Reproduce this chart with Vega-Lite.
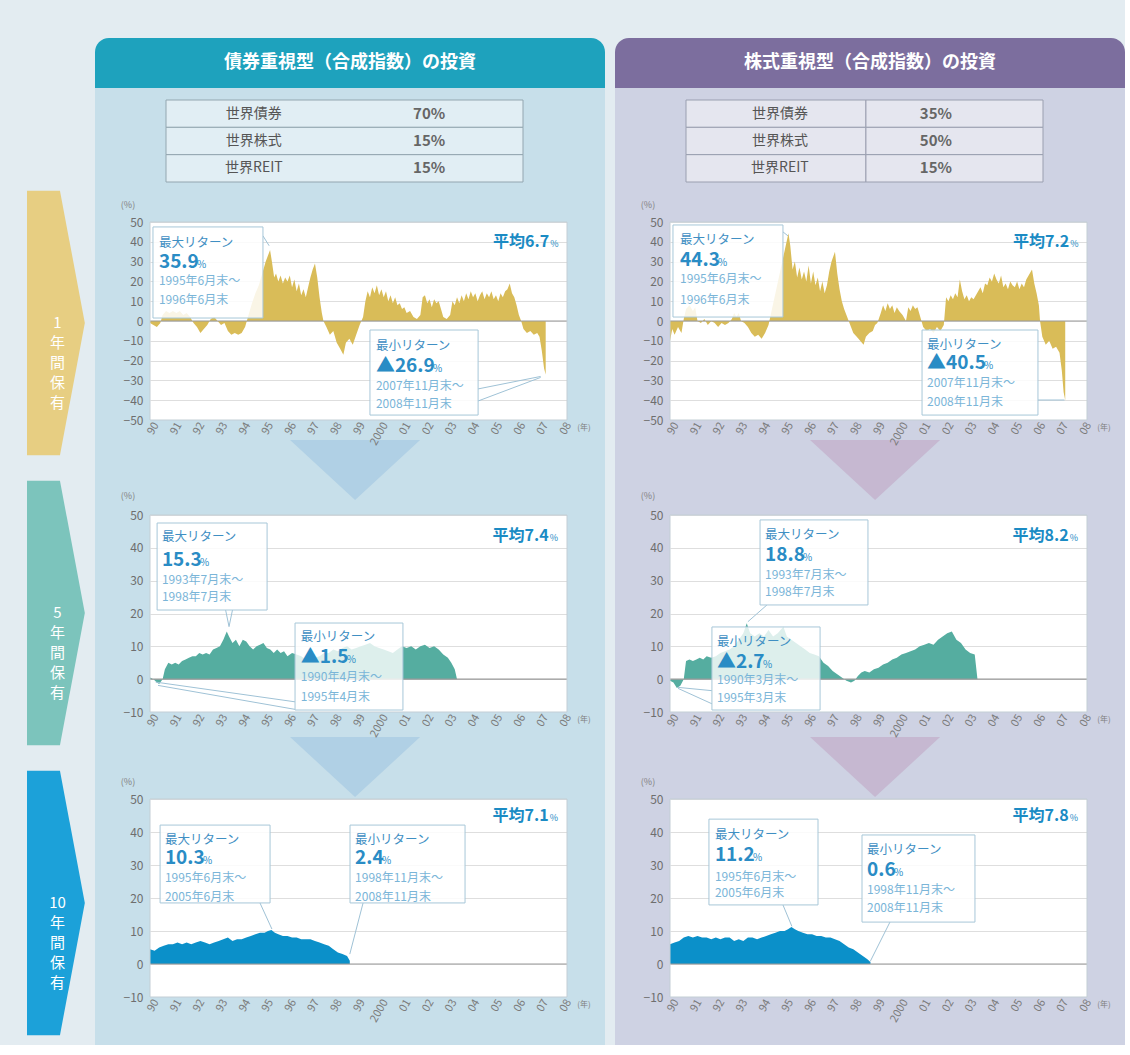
{
"$schema": "https://vega.github.io/schema/vega-lite/v6.json",
"background": "#e3ecf1",
"padding": {"left": 0, "top": 38, "right": 0, "bottom": 0},
"spacing": 10,
"config": {"font": "Noto Sans CJK JP", "view": {"stroke": null}, "text": {"font": "Noto Sans CJK JP"}, "axis": {"labelFont": "Noto Sans CJK JP"}},
"hconcat": [
{
 "width": 85, "height": 1007,
 "data": {"values": [
  {"row": "1年", "label": "1\n年\n間\n保\n有"},
  {"row": "5年", "label": "5\n年\n間\n保\n有"},
  {"row": "10年", "label": "10\n年\n間\n保\n有"}
 ]},
 "encoding": {"y": {"field": "row", "type": "nominal", "sort": null, "scale": {"type": "point", "domain": ["1年","5年","10年"], "range": [140, 1010], "padding": 0.5}, "axis": null}},
 "layer": [
  {"mark": {"type": "point", "shape": "M-0.117,-1L0.132,-1L0.32,0L0.132,1L-0.117,1Z", "filled": true, "opacity": 1, "size": 70000, "strokeWidth": 0},
   "encoding": {"color": {"field": "row", "type": "nominal", "scale": {"domain": ["1年","5年","10年"], "range": ["#e7ce82","#7cc4bc","#1ca1d9"]}, "legend": null}}},
  {"mark": {"type": "text", "color": "white", "fontSize": 15, "lineBreak": "\n", "lineHeight": 20, "dx": 15, "baseline": "middle"},
   "encoding": {"text": {"field": "label"}}}
 ]
},
{
 "spacing": 0, "bounds": "flush",
 "vconcat": [
  {"width": 510, "height": 50,
   "data": {"values": [{"title": "債券重視型（合成指数）の投資"}]},
   "layer": [
    {"mark": {"type": "rect", "color": "#1ea2bd", "cornerRadiusTopLeft": 14, "cornerRadiusTopRight": 14}},
    {"mark": {"type": "text", "color": "white", "fontSize": 18, "fontWeight": "bold", "baseline": "middle"}, "encoding": {"text": {"field": "title"}}}
   ]},
  {"width": 510, "height": 102, "view": {"fill": "#c7dfea"},
   "data": {"values": [{"asset": "世界債券", "w": "70%"}, {"asset": "世界株式", "w": "15%"}, {"asset": "世界REIT", "w": "15%"}]},
   "encoding": {"y": {"field": "asset", "type": "nominal", "sort": null, "scale": {"type": "band", "range": [12, 94], "paddingInner": 0, "paddingOuter": 0}, "axis": null}},
   "layer": [
    {"mark": {"type": "rect", "fill": "#e1eef4", "stroke": "#93a6b0", "strokeWidth": 1}, "encoding": {"x": {"datum": 0, "scale": {"domain": [0, 1], "range": [71, 428]}, "axis": null}, "x2": {"datum": 1}}},
    {"mark": {"type": "text", "fontSize": 14, "color": "#555555"}, "encoding": {"x": {"datum": 0.246, "axis": null}, "text": {"field": "asset"}}},
    {"mark": {"type": "text", "fontSize": 15, "fontWeight": "bold", "color": "#666666"}, "encoding": {"x": {"datum": 0.737, "axis": null}, "text": {"field": "w"}}}
   ]},
  {"width": 510, "height": 310, "view": {"fill": "white"},
   "resolve": {"axis": {"x": "independent", "y": "independent"}},
   "layer": [
    {"data": {"values": [
      {"t":1990.0,"v":-1},{"t":1990.15,"v":-2},{"t":1990.3,"v":-3},{"t":1990.45,"v":-1},{"t":1990.55,"v":3},{"t":1990.7,"v":5},{"t":1990.85,"v":4},{"t":1991.0,"v":5},{"t":1991.15,"v":4},{"t":1991.3,"v":5},{"t":1991.45,"v":3},{"t":1991.6,"v":4},{"t":1991.75,"v":2},{"t":1991.9,"v":-1},{"t":1992.05,"v":-3},{"t":1992.2,"v":-6},{"t":1992.35,"v":-4},{"t":1992.5,"v":-2},{"t":1992.65,"v":1},{"t":1992.8,"v":2},{"t":1992.95,"v":0},{"t":1993.1,"v":-2},{"t":1993.25,"v":-1},{"t":1993.4,"v":-5},{"t":1993.55,"v":-7},{"t":1993.7,"v":-6},{"t":1993.85,"v":-7},{"t":1994.0,"v":-6},{"t":1994.15,"v":-3},{"t":1994.3,"v":3},{"t":1994.45,"v":9},{"t":1994.6,"v":14},{"t":1994.75,"v":18},{"t":1994.9,"v":24},{"t":1995.05,"v":30},{"t":1995.24,"v":35.9},{"t":1995.32,"v":30},{"t":1995.42,"v":22},{"t":1995.5,"v":24},{"t":1995.6,"v":20},{"t":1995.7,"v":23},{"t":1995.8,"v":19},{"t":1995.9,"v":22},{"t":1996.0,"v":20},{"t":1996.1,"v":23},{"t":1996.2,"v":17},{"t":1996.3,"v":21},{"t":1996.4,"v":15},{"t":1996.5,"v":19},{"t":1996.6,"v":13},{"t":1996.7,"v":16},{"t":1996.8,"v":12},{"t":1996.9,"v":17},{"t":1997.0,"v":22},{"t":1997.1,"v":26},{"t":1997.2,"v":29},{"t":1997.3,"v":22},{"t":1997.4,"v":12},{"t":1997.5,"v":4},{"t":1997.57,"v":0},{"t":1997.7,"v":-3},{"t":1997.85,"v":-7},{"t":1998.0,"v":-5},{"t":1998.15,"v":-11},{"t":1998.3,"v":-14},{"t":1998.44,"v":-17},{"t":1998.55,"v":-11},{"t":1998.7,"v":-9},{"t":1998.85,"v":-12},{"t":1999.0,"v":-7},{"t":1999.15,"v":-2},{"t":1999.3,"v":2},{"t":1999.4,"v":10},{"t":1999.5,"v":15},{"t":1999.6,"v":12},{"t":1999.7,"v":17},{"t":1999.8,"v":14},{"t":1999.9,"v":18},{"t":2000.0,"v":13},{"t":2000.1,"v":16},{"t":2000.2,"v":12},{"t":2000.3,"v":15},{"t":2000.4,"v":10},{"t":2000.5,"v":13},{"t":2000.6,"v":9},{"t":2000.7,"v":12},{"t":2000.8,"v":8},{"t":2000.9,"v":9},{"t":2001.0,"v":6},{"t":2001.1,"v":7},{"t":2001.2,"v":4},{"t":2001.35,"v":5},{"t":2001.5,"v":2},{"t":2001.65,"v":1},{"t":2001.8,"v":3},{"t":2001.9,"v":12},{"t":2002.0,"v":13},{"t":2002.1,"v":9},{"t":2002.2,"v":11},{"t":2002.3,"v":7},{"t":2002.4,"v":11},{"t":2002.5,"v":9},{"t":2002.6,"v":10},{"t":2002.7,"v":6},{"t":2002.8,"v":2},{"t":2002.95,"v":1},{"t":2003.1,"v":3},{"t":2003.2,"v":10},{"t":2003.3,"v":8},{"t":2003.4,"v":12},{"t":2003.5,"v":9},{"t":2003.6,"v":13},{"t":2003.7,"v":10},{"t":2003.8,"v":14},{"t":2003.9,"v":11},{"t":2004.0,"v":15},{"t":2004.1,"v":12},{"t":2004.2,"v":14},{"t":2004.3,"v":10},{"t":2004.4,"v":13},{"t":2004.5,"v":15},{"t":2004.6,"v":11},{"t":2004.7,"v":14},{"t":2004.8,"v":12},{"t":2004.9,"v":15},{"t":2005.0,"v":11},{"t":2005.1,"v":13},{"t":2005.2,"v":10},{"t":2005.3,"v":14},{"t":2005.4,"v":12},{"t":2005.5,"v":15},{"t":2005.6,"v":16},{"t":2005.7,"v":19},{"t":2005.8,"v":14},{"t":2005.9,"v":12},{"t":2006.0,"v":8},{"t":2006.1,"v":3},{"t":2006.2,"v":0},{"t":2006.3,"v":-4},{"t":2006.45,"v":-6},{"t":2006.6,"v":-5},{"t":2006.75,"v":-7},{"t":2006.9,"v":-6},{"t":2007.0,"v":-8},{"t":2007.1,"v":-15},{"t":2007.2,"v":-24},{"t":2007.27,"v":-27}
     ]},
     "mark": {"type": "area", "color": "#d9bc58"},
     "encoding": {
      "x": {"field": "t", "type": "quantitative", "scale": {"domain": [1990, 2008.2], "range": [55, 472], "nice": false, "zero": false},
            "axis": {"orient": "bottom", "offset": -80, "values": [1990,1991,1992,1993,1994,1995,1996,1997,1998,1999,2000,2001,2002,2003,2004,2005,2006,2007,2008], "labelExpr": "datum.value === 2000 ? '2000' : format(datum.value % 100, '02d')", "labelAngle": -60, "labelAlign": "right", "labelBaseline": "middle", "labelOffset": 6, "labelPadding": 3, "labelFontSize": 11, "labelColor": "#7b7b7b", "labelOverlap": false, "labelFlush": false, "labelBound": false, "domain": false, "ticks": false, "grid": false, "title": null, "zindex": 1}},
      "y": {"field": "v", "type": "quantitative", "scale": {"domain": [-50, 50], "range": [230, 32], "nice": false, "zero": false},
            "axis": {"orient": "left", "values": [-50,-40,-30,-20,-10,0,10,20,30,40,50], "grid": true, "gridColor": "#dedede", "labels": false, "ticks": false, "domain": false, "title": null, "zindex": 0}}
     }},
    {"data": {"values": [{}]}, "mark": {"type": "rect", "color": "#c7dfea", "clip": true}, "encoding": {"x": {"datum": 1975, "axis": null}, "x2": {"datum": 1990}}},
    {"data": {"values": [{}]}, "mark": {"type": "rect", "color": "#c7dfea", "clip": true}, "encoding": {"x": {"datum": 2008.2, "axis": null}, "x2": {"datum": 2025}}},
    {"data": {"values": [{}]}, "mark": {"type": "rect", "color": "#c7dfea", "clip": true}, "encoding": {"y": {"datum": 50, "axis": null}, "y2": {"datum": 400}}},
    {"data": {"values": [{}]}, "mark": {"type": "rect", "color": "#c7dfea", "clip": true}, "encoding": {"y": {"datum": -50, "axis": null}, "y2": {"datum": -400}}},
    {"data": {"values": [{}]}, "mark": {"type": "point", "shape": "M-1,-0.4615L1,-0.4615L0,0.4615Z", "filled": true, "size": 16900, "color": "#b0d0e5", "opacity": 1, "strokeWidth": 0, "clip": true}, "encoding": {"x": {"datum": 1998.95, "axis": null}, "y": {"datum": -75.25, "axis": null}}},
    {"data": {"values": [{}]}, "mark": {"type": "rule", "color": "#9a9a9a", "strokeWidth": 1.2}, "encoding": {"x": {"datum": 1990, "axis": null}, "x2": {"datum": 2008.2}, "y": {"datum": 0, "axis": null}}},
    {"data": {"values": [{}]}, "mark": {"type": "rect", "filled": false, "color": "#c3ced5", "strokeWidth": 1},
     "encoding": {"x": {"datum": 1990, "axis": null}, "x2": {"datum": 2008.2},
      "y": {"datum": -50, "axis": {"orient": "left", "offset": -55, "values": [-50,-40,-30,-20,-10,0,10,20,30,40,50], "grid": false, "ticks": false, "domain": false, "labelPadding": 7, "labelFontSize": 12, "labelColor": "#6e6e6e", "labelOverlap": false, "labelFlush": false, "labelBound": false, "title": null, "zindex": 1}},
      "y2": {"datum": 50}}},
    {"data": {"values": [{}]}, "mark": {"type": "text", "fontSize": 9, "color": "#808080", "dx": -22, "dy": -17}, "encoding": {"x": {"datum": 1990, "axis": null}, "y": {"datum": 50, "axis": null}, "text": {"value": "(%)"}}},
    {"data": {"values": [{}]}, "mark": {"type": "text", "fontSize": 8, "color": "#808080", "dx": 17, "dy": 8}, "encoding": {"x": {"datum": 2008.2, "axis": null}, "y": {"datum": -50, "axis": null}, "text": {"value": "(年)"}}},
    {"data": {"values": [{"kind": "最大リターン", "ret": "35.9", "from": "1995年6月末〜", "to": "1996年6月末"}]},
     "layer": [
      {"mark": {"type": "rule", "color": "#9fc2d6", "strokeWidth": 1}, "encoding": {"x": {"datum": 1994.93, "axis": null}, "y": {"datum": 43, "axis": null}, "x2": {"datum": 1995.2}, "y2": {"datum": 38}}},
      {"mark": {"type": "rect", "fill": "white", "fillOpacity": 0.85, "stroke": "#a7c7d8", "strokeWidth": 1}, "encoding": {"x": {"datum": 1990.13, "axis": null}, "x2": {"datum": 1994.93}, "y": {"datum": 47.5, "axis": null}, "y2": {"datum": 1.5}}},
      {"mark": {"type": "text", "align": "left", "baseline": "middle", "fontSize": 12.5, "color": "#3f8fc3"}, "encoding": {"x": {"datum": 1990.39, "axis": null}, "y": {"datum": 39.4, "axis": null}, "text": {"field": "kind"}}},
      {"mark": {"type": "text", "align": "left", "baseline": "middle", "fontSize": 19, "fontWeight": "bold", "color": "#2a8cc5"}, "encoding": {"x": {"datum": 1990.39, "axis": null}, "y": {"datum": 29.8, "axis": null}, "text": {"field": "ret"}}},
      {"mark": {"type": "text", "align": "left", "baseline": "middle", "fontSize": 10, "color": "#2a8cc5", "dx": 38, "dy": 3}, "encoding": {"x": {"datum": 1990.39, "axis": null}, "y": {"datum": 29.8, "axis": null}, "text": {"value": "%"}}},
      {"mark": {"type": "text", "align": "left", "baseline": "middle", "fontSize": 12, "color": "#7ab5d8"}, "encoding": {"x": {"datum": 1990.39, "axis": null}, "y": {"datum": 20.2, "axis": null}, "text": {"field": "from"}}},
      {"mark": {"type": "text", "align": "left", "baseline": "middle", "fontSize": 12, "color": "#7ab5d8"}, "encoding": {"x": {"datum": 1990.39, "axis": null}, "y": {"datum": 10.6, "axis": null}, "text": {"field": "to"}}}
     ]},
    {"data": {"values": [{"kind": "最小リターン", "ret": "▲26.9", "from": "2007年11月末〜", "to": "2008年11月末"}]},
     "layer": [
      {"mark": {"type": "rule", "color": "#9fc2d6", "strokeWidth": 1}, "encoding": {"x": {"datum": 2004.32, "axis": null}, "y": {"datum": -34.3, "axis": null}, "x2": {"datum": 2007.05}, "y2": {"datum": -28}}},
      {"mark": {"type": "rule", "color": "#9fc2d6", "strokeWidth": 1}, "encoding": {"x": {"datum": 2004.32, "axis": null}, "y": {"datum": -40.4, "axis": null}, "x2": {"datum": 2007.05}, "y2": {"datum": -28.5}}},
      {"mark": {"type": "rect", "fill": "white", "fillOpacity": 0.85, "stroke": "#a7c7d8", "strokeWidth": 1}, "encoding": {"x": {"datum": 1999.6, "axis": null}, "x2": {"datum": 2004.32}, "y": {"datum": -4.55, "axis": null}, "y2": {"datum": -47.5}}},
      {"mark": {"type": "text", "align": "left", "baseline": "middle", "fontSize": 12.5, "color": "#3f8fc3"}, "encoding": {"x": {"datum": 1999.86, "axis": null}, "y": {"datum": -12.6, "axis": null}, "text": {"field": "kind"}}},
      {"mark": {"type": "text", "align": "left", "baseline": "middle", "fontSize": 19, "fontWeight": "bold", "color": "#2a8cc5"}, "encoding": {"x": {"datum": 1999.86, "axis": null}, "y": {"datum": -22.7, "axis": null}, "text": {"field": "ret"}}},
      {"mark": {"type": "text", "align": "left", "baseline": "middle", "fontSize": 10, "color": "#2a8cc5", "dx": 57, "dy": 3}, "encoding": {"x": {"datum": 1999.86, "axis": null}, "y": {"datum": -22.7, "axis": null}, "text": {"value": "%"}}},
      {"mark": {"type": "text", "align": "left", "baseline": "middle", "fontSize": 12, "color": "#7ab5d8"}, "encoding": {"x": {"datum": 1999.86, "axis": null}, "y": {"datum": -32.8, "axis": null}, "text": {"field": "from"}}},
      {"mark": {"type": "text", "align": "left", "baseline": "middle", "fontSize": 12, "color": "#7ab5d8"}, "encoding": {"x": {"datum": 1999.86, "axis": null}, "y": {"datum": -41.9, "axis": null}, "text": {"field": "to"}}}
     ]},
    {"data": {"values": [{"avg": "平均6.7"}]},
     "layer": [
      {"mark": {"type": "text", "align": "right", "baseline": "alphabetic", "fontSize": 16, "fontWeight": "bold", "color": "#1b8bc4"}, "encoding": {"x": {"datum": 2007.42, "axis": null}, "y": {"datum": 37.4, "axis": null}, "text": {"field": "avg"}}},
      {"mark": {"type": "text", "align": "left", "baseline": "alphabetic", "fontSize": 9, "color": "#1b8bc4", "dx": 1}, "encoding": {"x": {"datum": 2007.42, "axis": null}, "y": {"datum": 37.4, "axis": null}, "text": {"value": "%"}}}
     ]}
   ]},
  {"width": 510, "height": 298, "view": {"fill": "white"},
   "resolve": {"axis": {"x": "independent", "y": "independent"}},
   "layer": [
    {"data": {"values": [
      {"t":1990.0,"v":0.5},{"t":1990.15,"v":0},{"t":1990.3,"v":-1},{"t":1990.4,"v":-1.5},{"t":1990.55,"v":0},{"t":1990.65,"v":3},{"t":1990.8,"v":5},{"t":1990.95,"v":4.5},{"t":1991.1,"v":5},{"t":1991.25,"v":4.5},{"t":1991.4,"v":5.5},{"t":1991.55,"v":6},{"t":1991.7,"v":6.5},{"t":1991.85,"v":7},{"t":1992.0,"v":7},{"t":1992.15,"v":8},{"t":1992.3,"v":7.5},{"t":1992.45,"v":8},{"t":1992.6,"v":7.5},{"t":1992.75,"v":9},{"t":1992.9,"v":9.5},{"t":1993.05,"v":10},{"t":1993.2,"v":12},{"t":1993.35,"v":14.5},{"t":1993.45,"v":13},{"t":1993.6,"v":11},{"t":1993.75,"v":12},{"t":1993.9,"v":10},{"t":1994.05,"v":12},{"t":1994.2,"v":11.5},{"t":1994.35,"v":10},{"t":1994.5,"v":9},{"t":1994.65,"v":10},{"t":1994.8,"v":10.5},{"t":1994.95,"v":11},{"t":1995.1,"v":9.5},{"t":1995.25,"v":9},{"t":1995.4,"v":8},{"t":1995.55,"v":9},{"t":1995.7,"v":8},{"t":1995.85,"v":8.5},{"t":1996.0,"v":7},{"t":1996.2,"v":8},{"t":1996.4,"v":7.5},{"t":1996.6,"v":7},{"t":1996.8,"v":6},{"t":1997.0,"v":7},{"t":1997.2,"v":6.5},{"t":1997.4,"v":7},{"t":1997.6,"v":8},{"t":1997.8,"v":8},{"t":1998.0,"v":9},{"t":1998.2,"v":8.5},{"t":1998.4,"v":9.5},{"t":1998.6,"v":10},{"t":1998.8,"v":9},{"t":1999.0,"v":9.5},{"t":1999.2,"v":10},{"t":1999.4,"v":10.5},{"t":1999.6,"v":11},{"t":1999.8,"v":10},{"t":2000.0,"v":9.5},{"t":2000.2,"v":9},{"t":2000.4,"v":8.5},{"t":2000.6,"v":8},{"t":2000.8,"v":9},{"t":2001.0,"v":10},{"t":2001.2,"v":9.5},{"t":2001.4,"v":10},{"t":2001.6,"v":9},{"t":2001.8,"v":10},{"t":2002.0,"v":10.5},{"t":2002.2,"v":9.5},{"t":2002.4,"v":10},{"t":2002.6,"v":9},{"t":2002.8,"v":7.5},{"t":2003.0,"v":6.5},{"t":2003.15,"v":5},{"t":2003.3,"v":3},{"t":2003.4,"v":0}
     ]},
     "mark": {"type": "area", "color": "#55ada0"},
     "encoding": {
      "x": {"field": "t", "type": "quantitative", "scale": {"domain": [1990, 2008.2], "range": [55, 472], "nice": false, "zero": false},
            "axis": {"orient": "bottom", "offset": -86, "values": [1990,1991,1992,1993,1994,1995,1996,1997,1998,1999,2000,2001,2002,2003,2004,2005,2006,2007,2008], "labelExpr": "datum.value === 2000 ? '2000' : format(datum.value % 100, '02d')", "labelAngle": -60, "labelAlign": "right", "labelBaseline": "middle", "labelOffset": 6, "labelPadding": 3, "labelFontSize": 11, "labelColor": "#7b7b7b", "labelOverlap": false, "labelFlush": false, "labelBound": false, "domain": false, "ticks": false, "grid": false, "title": null, "zindex": 1}},
      "y": {"field": "v", "type": "quantitative", "scale": {"domain": [-10, 50], "range": [212, 15], "nice": false, "zero": false},
            "axis": {"orient": "left", "values": [-10,0,10,20,30,40,50], "grid": true, "gridColor": "#dedede", "labels": false, "ticks": false, "domain": false, "title": null, "zindex": 0}}
     }},
    {"data": {"values": [{}]}, "mark": {"type": "rect", "color": "#c7dfea", "clip": true}, "encoding": {"x": {"datum": 1975, "axis": null}, "x2": {"datum": 1990}}},
    {"data": {"values": [{}]}, "mark": {"type": "rect", "color": "#c7dfea", "clip": true}, "encoding": {"x": {"datum": 2008.2, "axis": null}, "x2": {"datum": 2025}}},
    {"data": {"values": [{}]}, "mark": {"type": "rect", "color": "#c7dfea", "clip": true}, "encoding": {"y": {"datum": 50, "axis": null}, "y2": {"datum": 400}}},
    {"data": {"values": [{}]}, "mark": {"type": "rect", "color": "#c7dfea", "clip": true}, "encoding": {"y": {"datum": -10, "axis": null}, "y2": {"datum": -400}}},
    {"data": {"values": [{}]}, "mark": {"type": "point", "shape": "M-1,-0.4615L1,-0.4615L0,0.4615Z", "filled": true, "size": 16900, "color": "#b0d0e5", "opacity": 1, "strokeWidth": 0, "clip": true}, "encoding": {"x": {"datum": 1998.95, "axis": null}, "y": {"datum": -26.76, "axis": null}}},
    {"data": {"values": [{}]}, "mark": {"type": "rule", "color": "#9a9a9a", "strokeWidth": 1.2}, "encoding": {"x": {"datum": 1990, "axis": null}, "x2": {"datum": 2008.2}, "y": {"datum": 0, "axis": null}}},
    {"data": {"values": [{}]}, "mark": {"type": "rect", "filled": false, "color": "#c3ced5", "strokeWidth": 1},
     "encoding": {"x": {"datum": 1990, "axis": null}, "x2": {"datum": 2008.2},
      "y": {"datum": -10, "axis": {"orient": "left", "offset": -55, "values": [-10,0,10,20,30,40,50], "grid": false, "ticks": false, "domain": false, "labelPadding": 7, "labelFontSize": 12, "labelColor": "#6e6e6e", "labelOverlap": false, "labelFlush": false, "labelBound": false, "title": null, "zindex": 1}},
      "y2": {"datum": 50}}},
    {"data": {"values": [{}]}, "mark": {"type": "text", "fontSize": 9, "color": "#808080", "dx": -22, "dy": -19}, "encoding": {"x": {"datum": 1990, "axis": null}, "y": {"datum": 50, "axis": null}, "text": {"value": "(%)"}}},
    {"data": {"values": [{}]}, "mark": {"type": "text", "fontSize": 8, "color": "#808080", "dx": 17, "dy": 8}, "encoding": {"x": {"datum": 2008.2, "axis": null}, "y": {"datum": -10, "axis": null}, "text": {"value": "(年)"}}},
    {"data": {"values": [{"kind": "最大リターン", "ret": "15.3", "from": "1993年7月末〜", "to": "1998年7月末"}]},
     "layer": [
      {"mark": {"type": "rule", "color": "#9fc2d6", "strokeWidth": 1}, "encoding": {"x": {"datum": 1993.3, "axis": null}, "y": {"datum": 21.06, "axis": null}, "x2": {"datum": 1993.45}, "y2": {"datum": 16}}},
      {"mark": {"type": "rule", "color": "#9fc2d6", "strokeWidth": 1}, "encoding": {"x": {"datum": 1993.6, "axis": null}, "y": {"datum": 21.06, "axis": null}, "x2": {"datum": 1993.45}, "y2": {"datum": 16}}},
      {"mark": {"type": "rect", "fill": "white", "fillOpacity": 0.85, "stroke": "#a7c7d8", "strokeWidth": 1}, "encoding": {"x": {"datum": 1990.31, "axis": null}, "x2": {"datum": 1995.11}, "y": {"datum": 47.56, "axis": null}, "y2": {"datum": 21.06}}},
      {"mark": {"type": "text", "align": "left", "baseline": "middle", "fontSize": 12.5, "color": "#3f8fc3"}, "encoding": {"x": {"datum": 1990.52, "axis": null}, "y": {"datum": 43.4, "axis": null}, "text": {"field": "kind"}}},
      {"mark": {"type": "text", "align": "left", "baseline": "middle", "fontSize": 19, "fontWeight": "bold", "color": "#2a8cc5"}, "encoding": {"x": {"datum": 1990.52, "axis": null}, "y": {"datum": 36.3, "axis": null}, "text": {"field": "ret"}}},
      {"mark": {"type": "text", "align": "left", "baseline": "middle", "fontSize": 10, "color": "#2a8cc5", "dx": 38, "dy": 3}, "encoding": {"x": {"datum": 1990.52, "axis": null}, "y": {"datum": 36.3, "axis": null}, "text": {"value": "%"}}},
      {"mark": {"type": "text", "align": "left", "baseline": "middle", "fontSize": 12, "color": "#7ab5d8"}, "encoding": {"x": {"datum": 1990.52, "axis": null}, "y": {"datum": 30.2, "axis": null}, "text": {"field": "from"}}},
      {"mark": {"type": "text", "align": "left", "baseline": "middle", "fontSize": 12, "color": "#7ab5d8"}, "encoding": {"x": {"datum": 1990.52, "axis": null}, "y": {"datum": 25.1, "axis": null}, "text": {"field": "to"}}}
     ]},
    {"data": {"values": [{"kind": "最小リターン", "ret": "▲1.5", "from": "1990年4月末〜", "to": "1995年4月末"}]},
     "layer": [
      {"mark": {"type": "rule", "color": "#9fc2d6", "strokeWidth": 1}, "encoding": {"x": {"datum": 1990.25, "axis": null}, "y": {"datum": -0.9, "axis": null}, "x2": {"datum": 1996.33}, "y2": {"datum": -6.9}}},
      {"mark": {"type": "rule", "color": "#9fc2d6", "strokeWidth": 1}, "encoding": {"x": {"datum": 1990.35, "axis": null}, "y": {"datum": -1.9, "axis": null}, "x2": {"datum": 1996.33}, "y2": {"datum": -9.2}}},
      {"mark": {"type": "rect", "fill": "white", "fillOpacity": 0.8, "stroke": "#a7c7d8", "strokeWidth": 1}, "encoding": {"x": {"datum": 1996.33, "axis": null}, "x2": {"datum": 2001.04}, "y": {"datum": 17.1, "axis": null}, "y2": {"datum": -9.4}}},
      {"mark": {"type": "text", "align": "left", "baseline": "middle", "fontSize": 12.5, "color": "#3f8fc3"}, "encoding": {"x": {"datum": 1996.58, "axis": null}, "y": {"datum": 12.9, "axis": null}, "text": {"field": "kind"}}},
      {"mark": {"type": "text", "align": "left", "baseline": "middle", "fontSize": 19, "fontWeight": "bold", "color": "#2a8cc5"}, "encoding": {"x": {"datum": 1996.58, "axis": null}, "y": {"datum": 6.8, "axis": null}, "text": {"field": "ret"}}},
      {"mark": {"type": "text", "align": "left", "baseline": "middle", "fontSize": 10, "color": "#2a8cc5", "dx": 46, "dy": 3}, "encoding": {"x": {"datum": 1996.58, "axis": null}, "y": {"datum": 6.8, "axis": null}, "text": {"value": "%"}}},
      {"mark": {"type": "text", "align": "left", "baseline": "middle", "fontSize": 12, "color": "#7ab5d8"}, "encoding": {"x": {"datum": 1996.58, "axis": null}, "y": {"datum": 0.75, "axis": null}, "text": {"field": "from"}}},
      {"mark": {"type": "text", "align": "left", "baseline": "middle", "fontSize": 12, "color": "#7ab5d8"}, "encoding": {"x": {"datum": 1996.58, "axis": null}, "y": {"datum": -5.3, "axis": null}, "text": {"field": "to"}}}
     ]},
    {"data": {"values": [{"avg": "平均7.4"}]},
     "layer": [
      {"mark": {"type": "text", "align": "right", "baseline": "alphabetic", "fontSize": 16, "fontWeight": "bold", "color": "#1b8bc4"}, "encoding": {"x": {"datum": 2007.4, "axis": null}, "y": {"datum": 42.1, "axis": null}, "text": {"field": "avg"}}},
      {"mark": {"type": "text", "align": "left", "baseline": "alphabetic", "fontSize": 9, "color": "#1b8bc4", "dx": 1}, "encoding": {"x": {"datum": 2007.4, "axis": null}, "y": {"datum": 42.1, "axis": null}, "text": {"value": "%"}}}
     ]}
   ]},
  {"width": 510, "height": 247, "view": {"fill": "white"},
   "resolve": {"axis": {"x": "independent", "y": "independent"}},
   "layer": [
    {"data": {"values": [
      {"t":1990.0,"v":4.5},{"t":1990.2,"v":4},{"t":1990.4,"v":5},{"t":1990.6,"v":5.5},{"t":1990.8,"v":6},{"t":1991.0,"v":6},{"t":1991.2,"v":6.5},{"t":1991.4,"v":6},{"t":1991.6,"v":6.5},{"t":1991.8,"v":6},{"t":1992.0,"v":6.5},{"t":1992.2,"v":7},{"t":1992.4,"v":6.5},{"t":1992.6,"v":6},{"t":1992.8,"v":6.5},{"t":1993.0,"v":7},{"t":1993.2,"v":7.5},{"t":1993.4,"v":8},{"t":1993.6,"v":7},{"t":1993.8,"v":7.5},{"t":1994.0,"v":7.5},{"t":1994.2,"v":8},{"t":1994.4,"v":8.5},{"t":1994.6,"v":9},{"t":1994.8,"v":9.5},{"t":1995.0,"v":9.5},{"t":1995.15,"v":10},{"t":1995.3,"v":10.3},{"t":1995.45,"v":9.5},{"t":1995.6,"v":9},{"t":1995.8,"v":8.5},{"t":1996.0,"v":8.5},{"t":1996.2,"v":8},{"t":1996.4,"v":8},{"t":1996.6,"v":7.5},{"t":1996.8,"v":7.5},{"t":1997.0,"v":7.5},{"t":1997.2,"v":7},{"t":1997.4,"v":6.5},{"t":1997.6,"v":6},{"t":1997.8,"v":5.5},{"t":1998.0,"v":4.5},{"t":1998.2,"v":3.5},{"t":1998.4,"v":3},{"t":1998.6,"v":2.4},{"t":1998.72,"v":1}
     ]},
     "mark": {"type": "area", "color": "#0b90c9"},
     "encoding": {
      "x": {"field": "t", "type": "quantitative", "scale": {"domain": [1990, 2008.2], "range": [55, 472], "nice": false, "zero": false},
            "axis": {"orient": "bottom", "offset": -48, "values": [1990,1991,1992,1993,1994,1995,1996,1997,1998,1999,2000,2001,2002,2003,2004,2005,2006,2007,2008], "labelExpr": "datum.value === 2000 ? '2000' : format(datum.value % 100, '02d')", "labelAngle": -60, "labelAlign": "right", "labelBaseline": "middle", "labelOffset": 6, "labelPadding": 3, "labelFontSize": 11, "labelColor": "#7b7b7b", "labelOverlap": false, "labelFlush": false, "labelBound": false, "domain": false, "ticks": false, "grid": false, "title": null, "zindex": 1}},
      "y": {"field": "v", "type": "quantitative", "scale": {"domain": [-10, 50], "range": [199, 1], "nice": false, "zero": false},
            "axis": {"orient": "left", "values": [-10,0,10,20,30,40,50], "grid": true, "gridColor": "#dedede", "labels": false, "ticks": false, "domain": false, "title": null, "zindex": 0}}
     }},
    {"data": {"values": [{}]}, "mark": {"type": "rect", "color": "#c7dfea", "clip": true}, "encoding": {"x": {"datum": 1975, "axis": null}, "x2": {"datum": 1990}}},
    {"data": {"values": [{}]}, "mark": {"type": "rect", "color": "#c7dfea", "clip": true}, "encoding": {"x": {"datum": 2008.2, "axis": null}, "x2": {"datum": 2025}}},
    {"data": {"values": [{}]}, "mark": {"type": "rect", "color": "#c7dfea", "clip": true}, "encoding": {"y": {"datum": 50, "axis": null}, "y2": {"datum": 400}}},
    {"data": {"values": [{}]}, "mark": {"type": "rect", "color": "#c7dfea", "clip": true}, "encoding": {"y": {"datum": -10, "axis": null}, "y2": {"datum": -400}}},
    {"data": {"values": [{}]}, "mark": {"type": "rule", "color": "#9a9a9a", "strokeWidth": 1.2}, "encoding": {"x": {"datum": 1990, "axis": null}, "x2": {"datum": 2008.2}, "y": {"datum": 0, "axis": null}}},
    {"data": {"values": [{}]}, "mark": {"type": "rect", "filled": false, "color": "#c3ced5", "strokeWidth": 1},
     "encoding": {"x": {"datum": 1990, "axis": null}, "x2": {"datum": 2008.2},
      "y": {"datum": -10, "axis": {"orient": "left", "offset": -55, "values": [-10,0,10,20,30,40,50], "grid": false, "ticks": false, "domain": false, "labelPadding": 7, "labelFontSize": 12, "labelColor": "#6e6e6e", "labelOverlap": false, "labelFlush": false, "labelBound": false, "title": null, "zindex": 1}},
      "y2": {"datum": 50}}},
    {"data": {"values": [{}]}, "mark": {"type": "text", "fontSize": 9, "color": "#808080", "dx": -22, "dy": -17}, "encoding": {"x": {"datum": 1990, "axis": null}, "y": {"datum": 50, "axis": null}, "text": {"value": "(%)"}}},
    {"data": {"values": [{}]}, "mark": {"type": "text", "fontSize": 8, "color": "#808080", "dx": 17, "dy": 8}, "encoding": {"x": {"datum": 2008.2, "axis": null}, "y": {"datum": -10, "axis": null}, "text": {"value": "(年)"}}},
    {"data": {"values": [{"kind": "最大リターン", "ret": "10.3", "from": "1995年6月末〜", "to": "2005年6月末"}]},
     "layer": [
      {"mark": {"type": "rule", "color": "#9fc2d6", "strokeWidth": 1}, "encoding": {"x": {"datum": 1994.8, "axis": null}, "y": {"datum": 18.5, "axis": null}, "x2": {"datum": 1995.32}, "y2": {"datum": 10.6}}},
      {"mark": {"type": "rect", "fill": "white", "fillOpacity": 0.85, "stroke": "#a7c7d8", "strokeWidth": 1}, "encoding": {"x": {"datum": 1990.44, "axis": null}, "x2": {"datum": 1995.24}, "y": {"datum": 42.1, "axis": null}, "y2": {"datum": 18.5}}},
      {"mark": {"type": "text", "align": "left", "baseline": "middle", "fontSize": 12.5, "color": "#3f8fc3"}, "encoding": {"x": {"datum": 1990.65, "axis": null}, "y": {"datum": 37.6, "axis": null}, "text": {"field": "kind"}}},
      {"mark": {"type": "text", "align": "left", "baseline": "middle", "fontSize": 19, "fontWeight": "bold", "color": "#2a8cc5"}, "encoding": {"x": {"datum": 1990.65, "axis": null}, "y": {"datum": 32.0, "axis": null}, "text": {"field": "ret"}}},
      {"mark": {"type": "text", "align": "left", "baseline": "middle", "fontSize": 10, "color": "#2a8cc5", "dx": 38, "dy": 3}, "encoding": {"x": {"datum": 1990.65, "axis": null}, "y": {"datum": 32.0, "axis": null}, "text": {"value": "%"}}},
      {"mark": {"type": "text", "align": "left", "baseline": "middle", "fontSize": 12, "color": "#7ab5d8"}, "encoding": {"x": {"datum": 1990.65, "axis": null}, "y": {"datum": 26.0, "axis": null}, "text": {"field": "from"}}},
      {"mark": {"type": "text", "align": "left", "baseline": "middle", "fontSize": 12, "color": "#7ab5d8"}, "encoding": {"x": {"datum": 1990.65, "axis": null}, "y": {"datum": 20.4, "axis": null}, "text": {"field": "to"}}}
     ]},
    {"data": {"values": [{"kind": "最小リターン", "ret": "2.4", "from": "1998年11月末〜", "to": "2008年11月末"}]},
     "layer": [
      {"mark": {"type": "rule", "color": "#9fc2d6", "strokeWidth": 1}, "encoding": {"x": {"datum": 1999.3, "axis": null}, "y": {"datum": 18.5, "axis": null}, "x2": {"datum": 1998.72}, "y2": {"datum": 3}}},
      {"mark": {"type": "rect", "fill": "white", "fillOpacity": 0.85, "stroke": "#a7c7d8", "strokeWidth": 1}, "encoding": {"x": {"datum": 1998.73, "axis": null}, "x2": {"datum": 2003.75}, "y": {"datum": 42.1, "axis": null}, "y2": {"datum": 18.5}}},
      {"mark": {"type": "text", "align": "left", "baseline": "middle", "fontSize": 12.5, "color": "#3f8fc3"}, "encoding": {"x": {"datum": 1998.95, "axis": null}, "y": {"datum": 37.6, "axis": null}, "text": {"field": "kind"}}},
      {"mark": {"type": "text", "align": "left", "baseline": "middle", "fontSize": 19, "fontWeight": "bold", "color": "#2a8cc5"}, "encoding": {"x": {"datum": 1998.95, "axis": null}, "y": {"datum": 32.0, "axis": null}, "text": {"field": "ret"}}},
      {"mark": {"type": "text", "align": "left", "baseline": "middle", "fontSize": 10, "color": "#2a8cc5", "dx": 27, "dy": 3}, "encoding": {"x": {"datum": 1998.95, "axis": null}, "y": {"datum": 32.0, "axis": null}, "text": {"value": "%"}}},
      {"mark": {"type": "text", "align": "left", "baseline": "middle", "fontSize": 12, "color": "#7ab5d8"}, "encoding": {"x": {"datum": 1998.95, "axis": null}, "y": {"datum": 26.0, "axis": null}, "text": {"field": "from"}}},
      {"mark": {"type": "text", "align": "left", "baseline": "middle", "fontSize": 12, "color": "#7ab5d8"}, "encoding": {"x": {"datum": 1998.95, "axis": null}, "y": {"datum": 20.4, "axis": null}, "text": {"field": "to"}}}
     ]},
    {"data": {"values": [{"avg": "平均7.1"}]},
     "layer": [
      {"mark": {"type": "text", "align": "right", "baseline": "alphabetic", "fontSize": 16, "fontWeight": "bold", "color": "#1b8bc4"}, "encoding": {"x": {"datum": 2007.4, "axis": null}, "y": {"datum": 43.3, "axis": null}, "text": {"field": "avg"}}},
      {"mark": {"type": "text", "align": "left", "baseline": "alphabetic", "fontSize": 9, "color": "#1b8bc4", "dx": 1}, "encoding": {"x": {"datum": 2007.4, "axis": null}, "y": {"datum": 43.3, "axis": null}, "text": {"value": "%"}}}
     ]}
   ]}
 ]
},
{
 "spacing": 0, "bounds": "flush",
 "vconcat": [
  {"width": 510, "height": 50,
   "data": {"values": [{"title": "株式重視型（合成指数）の投資"}]},
   "layer": [
    {"mark": {"type": "rect", "color": "#7c6e9e", "cornerRadiusTopLeft": 14, "cornerRadiusTopRight": 14}},
    {"mark": {"type": "text", "color": "white", "fontSize": 18, "fontWeight": "bold", "baseline": "middle"}, "encoding": {"text": {"field": "title"}}}
   ]},
  {"width": 510, "height": 102, "view": {"fill": "#ced2e3"},
   "data": {"values": [{"asset": "世界債券", "w": "35%"}, {"asset": "世界株式", "w": "50%"}, {"asset": "世界REIT", "w": "15%"}]},
   "encoding": {"y": {"field": "asset", "type": "nominal", "sort": null, "scale": {"type": "band", "range": [12, 94], "paddingInner": 0, "paddingOuter": 0}, "axis": null}},
   "layer": [
    {"mark": {"type": "rect", "fill": "#e5e6ef", "stroke": "#9a9fb0", "strokeWidth": 1}, "encoding": {"x": {"datum": 0, "scale": {"domain": [0, 1], "range": [71, 428]}, "axis": null}, "x2": {"datum": 0.504}}},
    {"mark": {"type": "rect", "fill": "#e5e6ef", "stroke": "#9a9fb0", "strokeWidth": 1}, "encoding": {"x": {"datum": 0.504, "axis": null}, "x2": {"datum": 1}}},
    {"mark": {"type": "text", "fontSize": 14, "color": "#555555"}, "encoding": {"x": {"datum": 0.263, "axis": null}, "text": {"field": "asset"}}},
    {"mark": {"type": "text", "fontSize": 15, "fontWeight": "bold", "color": "#666666"}, "encoding": {"x": {"datum": 0.7, "axis": null}, "text": {"field": "w"}}}
   ]},
  {"width": 510, "height": 310, "view": {"fill": "white"},
   "resolve": {"axis": {"x": "independent", "y": "independent"}},
   "layer": [
    {"data": {"values": [
      {"t":1990.0,"v":-10},{"t":1990.1,"v":-4},{"t":1990.2,"v":-7},{"t":1990.35,"v":-3},{"t":1990.5,"v":-6},{"t":1990.6,"v":1},{"t":1990.7,"v":6},{"t":1990.85,"v":8},{"t":1991.0,"v":5},{"t":1991.1,"v":7},{"t":1991.2,"v":0},{"t":1991.35,"v":-1},{"t":1991.5,"v":1},{"t":1991.65,"v":-2},{"t":1991.8,"v":0},{"t":1991.95,"v":-1},{"t":1992.1,"v":-3},{"t":1992.25,"v":-1},{"t":1992.4,"v":-2},{"t":1992.55,"v":-1},{"t":1992.7,"v":1},{"t":1992.8,"v":4},{"t":1992.9,"v":2},{"t":1993.0,"v":4},{"t":1993.1,"v":0},{"t":1993.25,"v":-1},{"t":1993.4,"v":-3},{"t":1993.55,"v":-6},{"t":1993.7,"v":-8},{"t":1993.85,"v":-7},{"t":1994.0,"v":-9},{"t":1994.15,"v":-6},{"t":1994.3,"v":-2},{"t":1994.45,"v":6},{"t":1994.6,"v":14},{"t":1994.75,"v":22},{"t":1994.9,"v":30},{"t":1995.05,"v":38},{"t":1995.17,"v":44.3},{"t":1995.25,"v":38},{"t":1995.35,"v":26},{"t":1995.45,"v":30},{"t":1995.55,"v":22},{"t":1995.65,"v":27},{"t":1995.75,"v":21},{"t":1995.85,"v":25},{"t":1995.95,"v":20},{"t":1996.05,"v":28},{"t":1996.15,"v":19},{"t":1996.25,"v":25},{"t":1996.35,"v":18},{"t":1996.45,"v":22},{"t":1996.55,"v":15},{"t":1996.65,"v":20},{"t":1996.75,"v":14},{"t":1996.85,"v":18},{"t":1996.95,"v":25},{"t":1997.05,"v":30},{"t":1997.2,"v":35},{"t":1997.3,"v":24},{"t":1997.4,"v":16},{"t":1997.5,"v":10},{"t":1997.6,"v":6},{"t":1997.7,"v":3},{"t":1997.8,"v":0},{"t":1997.9,"v":-3},{"t":1998.0,"v":-6},{"t":1998.15,"v":-8},{"t":1998.3,"v":-10},{"t":1998.45,"v":-12},{"t":1998.55,"v":-8},{"t":1998.7,"v":-6},{"t":1998.85,"v":-5},{"t":1998.95,"v":-2},{"t":1999.05,"v":-1},{"t":1999.2,"v":4},{"t":1999.3,"v":8},{"t":1999.4,"v":5},{"t":1999.5,"v":9},{"t":1999.6,"v":6},{"t":1999.7,"v":8},{"t":1999.8,"v":4},{"t":1999.9,"v":7},{"t":2000.0,"v":5},{"t":2000.15,"v":3},{"t":2000.3,"v":0},{"t":2000.4,"v":7},{"t":2000.5,"v":5},{"t":2000.6,"v":8},{"t":2000.7,"v":6},{"t":2000.8,"v":7},{"t":2000.95,"v":1},{"t":2001.05,"v":-3},{"t":2001.2,"v":-5},{"t":2001.35,"v":-4},{"t":2001.5,"v":-6},{"t":2001.65,"v":-3},{"t":2001.8,"v":-5},{"t":2001.95,"v":-2},{"t":2002.05,"v":12},{"t":2002.15,"v":10},{"t":2002.25,"v":13},{"t":2002.35,"v":11},{"t":2002.45,"v":14},{"t":2002.55,"v":12},{"t":2002.65,"v":21},{"t":2002.75,"v":15},{"t":2002.85,"v":11},{"t":2002.95,"v":13},{"t":2003.05,"v":10},{"t":2003.15,"v":12},{"t":2003.25,"v":11},{"t":2003.35,"v":13},{"t":2003.45,"v":15},{"t":2003.55,"v":17},{"t":2003.65,"v":14},{"t":2003.75,"v":19},{"t":2003.85,"v":18},{"t":2003.95,"v":22},{"t":2004.05,"v":20},{"t":2004.15,"v":24},{"t":2004.25,"v":21},{"t":2004.35,"v":19},{"t":2004.45,"v":23},{"t":2004.55,"v":17},{"t":2004.65,"v":19},{"t":2004.75,"v":16},{"t":2004.85,"v":20},{"t":2004.95,"v":18},{"t":2005.05,"v":17},{"t":2005.15,"v":20},{"t":2005.25,"v":16},{"t":2005.35,"v":19},{"t":2005.45,"v":17},{"t":2005.55,"v":21},{"t":2005.65,"v":23},{"t":2005.8,"v":26},{"t":2005.9,"v":19},{"t":2006.0,"v":14},{"t":2006.1,"v":8},{"t":2006.15,"v":0},{"t":2006.25,"v":-8},{"t":2006.4,"v":-12},{"t":2006.55,"v":-10},{"t":2006.7,"v":-14},{"t":2006.85,"v":-13},{"t":2007.0,"v":-16},{"t":2007.1,"v":-25},{"t":2007.18,"v":-36},{"t":2007.25,"v":-40}
     ]},
     "mark": {"type": "area", "color": "#d9bc58"},
     "encoding": {
      "x": {"field": "t", "type": "quantitative", "scale": {"domain": [1990, 2008.2], "range": [55, 472], "nice": false, "zero": false},
            "axis": {"orient": "bottom", "offset": -80, "values": [1990,1991,1992,1993,1994,1995,1996,1997,1998,1999,2000,2001,2002,2003,2004,2005,2006,2007,2008], "labelExpr": "datum.value === 2000 ? '2000' : format(datum.value % 100, '02d')", "labelAngle": -60, "labelAlign": "right", "labelBaseline": "middle", "labelOffset": 6, "labelPadding": 3, "labelFontSize": 11, "labelColor": "#7b7b7b", "labelOverlap": false, "labelFlush": false, "labelBound": false, "domain": false, "ticks": false, "grid": false, "title": null, "zindex": 1}},
      "y": {"field": "v", "type": "quantitative", "scale": {"domain": [-50, 50], "range": [230, 32], "nice": false, "zero": false},
            "axis": {"orient": "left", "values": [-50,-40,-30,-20,-10,0,10,20,30,40,50], "grid": true, "gridColor": "#dedede", "labels": false, "ticks": false, "domain": false, "title": null, "zindex": 0}}
     }},
    {"data": {"values": [{}]}, "mark": {"type": "rect", "color": "#ced2e3", "clip": true}, "encoding": {"x": {"datum": 1975, "axis": null}, "x2": {"datum": 1990}}},
    {"data": {"values": [{}]}, "mark": {"type": "rect", "color": "#ced2e3", "clip": true}, "encoding": {"x": {"datum": 2008.2, "axis": null}, "x2": {"datum": 2025}}},
    {"data": {"values": [{}]}, "mark": {"type": "rect", "color": "#ced2e3", "clip": true}, "encoding": {"y": {"datum": 50, "axis": null}, "y2": {"datum": 400}}},
    {"data": {"values": [{}]}, "mark": {"type": "rect", "color": "#ced2e3", "clip": true}, "encoding": {"y": {"datum": -50, "axis": null}, "y2": {"datum": -400}}},
    {"data": {"values": [{}]}, "mark": {"type": "point", "shape": "M-1,-0.4615L1,-0.4615L0,0.4615Z", "filled": true, "size": 16900, "color": "#c6b8d1", "opacity": 1, "strokeWidth": 0, "clip": true}, "encoding": {"x": {"datum": 1998.95, "axis": null}, "y": {"datum": -75.25, "axis": null}}},
    {"data": {"values": [{}]}, "mark": {"type": "rule", "color": "#9a9a9a", "strokeWidth": 1.2}, "encoding": {"x": {"datum": 1990, "axis": null}, "x2": {"datum": 2008.2}, "y": {"datum": 0, "axis": null}}},
    {"data": {"values": [{}]}, "mark": {"type": "rect", "filled": false, "color": "#c3ced5", "strokeWidth": 1},
     "encoding": {"x": {"datum": 1990, "axis": null}, "x2": {"datum": 2008.2},
      "y": {"datum": -50, "axis": {"orient": "left", "offset": -55, "values": [-50,-40,-30,-20,-10,0,10,20,30,40,50], "grid": false, "ticks": false, "domain": false, "labelPadding": 7, "labelFontSize": 12, "labelColor": "#6e6e6e", "labelOverlap": false, "labelFlush": false, "labelBound": false, "title": null, "zindex": 1}},
      "y2": {"datum": 50}}},
    {"data": {"values": [{}]}, "mark": {"type": "text", "fontSize": 9, "color": "#808080", "dx": -22, "dy": -17}, "encoding": {"x": {"datum": 1990, "axis": null}, "y": {"datum": 50, "axis": null}, "text": {"value": "(%)"}}},
    {"data": {"values": [{}]}, "mark": {"type": "text", "fontSize": 8, "color": "#808080", "dx": 17, "dy": 8}, "encoding": {"x": {"datum": 2008.2, "axis": null}, "y": {"datum": -50, "axis": null}, "text": {"value": "(年)"}}},
    {"data": {"values": [{"kind": "最大リターン", "ret": "44.3", "from": "1995年6月末〜", "to": "1996年6月末"}]},
     "layer": [
      {"mark": {"type": "rule", "color": "#9fc2d6", "strokeWidth": 1}, "encoding": {"x": {"datum": 1994.93, "axis": null}, "y": {"datum": 45, "axis": null}, "x2": {"datum": 1995.15}, "y2": {"datum": 43}}},
      {"mark": {"type": "rect", "fill": "white", "fillOpacity": 0.85, "stroke": "#a7c7d8", "strokeWidth": 1}, "encoding": {"x": {"datum": 1990.13, "axis": null}, "x2": {"datum": 1994.93}, "y": {"datum": 48.5, "axis": null}, "y2": {"datum": 2.0}}},
      {"mark": {"type": "text", "align": "left", "baseline": "middle", "fontSize": 12.5, "color": "#3f8fc3"}, "encoding": {"x": {"datum": 1990.44, "axis": null}, "y": {"datum": 40.9, "axis": null}, "text": {"field": "kind"}}},
      {"mark": {"type": "text", "align": "left", "baseline": "middle", "fontSize": 19, "fontWeight": "bold", "color": "#2a8cc5"}, "encoding": {"x": {"datum": 1990.44, "axis": null}, "y": {"datum": 30.8, "axis": null}, "text": {"field": "ret"}}},
      {"mark": {"type": "text", "align": "left", "baseline": "middle", "fontSize": 10, "color": "#2a8cc5", "dx": 38, "dy": 3}, "encoding": {"x": {"datum": 1990.44, "axis": null}, "y": {"datum": 30.8, "axis": null}, "text": {"value": "%"}}},
      {"mark": {"type": "text", "align": "left", "baseline": "middle", "fontSize": 12, "color": "#7ab5d8"}, "encoding": {"x": {"datum": 1990.44, "axis": null}, "y": {"datum": 21.2, "axis": null}, "text": {"field": "from"}}},
      {"mark": {"type": "text", "align": "left", "baseline": "middle", "fontSize": 12, "color": "#7ab5d8"}, "encoding": {"x": {"datum": 1990.44, "axis": null}, "y": {"datum": 10.6, "axis": null}, "text": {"field": "to"}}}
     ]},
    {"data": {"values": [{"kind": "最小リターン", "ret": "▲40.5", "from": "2007年11月末〜", "to": "2008年11月末"}]},
     "layer": [
      {"mark": {"type": "rule", "color": "#9fc2d6", "strokeWidth": 1}, "encoding": {"x": {"datum": 2006.06, "axis": null}, "y": {"datum": -39.9, "axis": null}, "x2": {"datum": 2007.22}, "y2": {"datum": -39.9}}},
      {"mark": {"type": "rect", "fill": "white", "fillOpacity": 0.85, "stroke": "#a7c7d8", "strokeWidth": 1}, "encoding": {"x": {"datum": 2001.0, "axis": null}, "x2": {"datum": 2006.06}, "y": {"datum": -4.55, "axis": null}, "y2": {"datum": -47.5}}},
      {"mark": {"type": "text", "align": "left", "baseline": "middle", "fontSize": 12.5, "color": "#3f8fc3"}, "encoding": {"x": {"datum": 2001.22, "axis": null}, "y": {"datum": -12.1, "axis": null}, "text": {"field": "kind"}}},
      {"mark": {"type": "text", "align": "left", "baseline": "middle", "fontSize": 19, "fontWeight": "bold", "color": "#2a8cc5"}, "encoding": {"x": {"datum": 2001.22, "axis": null}, "y": {"datum": -21.2, "axis": null}, "text": {"field": "ret"}}},
      {"mark": {"type": "text", "align": "left", "baseline": "middle", "fontSize": 10, "color": "#2a8cc5", "dx": 57, "dy": 3}, "encoding": {"x": {"datum": 2001.22, "axis": null}, "y": {"datum": -21.2, "axis": null}, "text": {"value": "%"}}},
      {"mark": {"type": "text", "align": "left", "baseline": "middle", "fontSize": 12, "color": "#7ab5d8"}, "encoding": {"x": {"datum": 2001.22, "axis": null}, "y": {"datum": -31.3, "axis": null}, "text": {"field": "from"}}},
      {"mark": {"type": "text", "align": "left", "baseline": "middle", "fontSize": 12, "color": "#7ab5d8"}, "encoding": {"x": {"datum": 2001.22, "axis": null}, "y": {"datum": -40.9, "axis": null}, "text": {"field": "to"}}}
     ]},
    {"data": {"values": [{"avg": "平均7.2"}]},
     "layer": [
      {"mark": {"type": "text", "align": "right", "baseline": "alphabetic", "fontSize": 16, "fontWeight": "bold", "color": "#1b8bc4"}, "encoding": {"x": {"datum": 2007.42, "axis": null}, "y": {"datum": 37.4, "axis": null}, "text": {"field": "avg"}}},
      {"mark": {"type": "text", "align": "left", "baseline": "alphabetic", "fontSize": 9, "color": "#1b8bc4", "dx": 1}, "encoding": {"x": {"datum": 2007.42, "axis": null}, "y": {"datum": 37.4, "axis": null}, "text": {"value": "%"}}}
     ]}
   ]},
  {"width": 510, "height": 298, "view": {"fill": "white"},
   "resolve": {"axis": {"x": "independent", "y": "independent"}},
   "layer": [
    {"data": {"values": [
      {"t":1990.0,"v":-0.5},{"t":1990.15,"v":-1},{"t":1990.3,"v":-2.7},{"t":1990.45,"v":-2},{"t":1990.6,"v":0},{"t":1990.7,"v":5.5},{"t":1990.85,"v":6},{"t":1991.0,"v":5.5},{"t":1991.15,"v":6},{"t":1991.3,"v":6.5},{"t":1991.45,"v":6},{"t":1991.6,"v":7},{"t":1991.8,"v":6.5},{"t":1992.0,"v":7},{"t":1992.2,"v":8},{"t":1992.4,"v":8.5},{"t":1992.6,"v":9},{"t":1992.8,"v":10},{"t":1993.0,"v":12},{"t":1993.2,"v":14},{"t":1993.35,"v":17},{"t":1993.5,"v":14},{"t":1993.7,"v":13},{"t":1993.9,"v":14},{"t":1994.1,"v":13},{"t":1994.3,"v":15},{"t":1994.5,"v":13},{"t":1994.7,"v":14},{"t":1994.95,"v":16},{"t":1995.1,"v":13},{"t":1995.3,"v":12},{"t":1995.5,"v":11},{"t":1995.7,"v":10},{"t":1995.9,"v":9},{"t":1996.1,"v":8},{"t":1996.3,"v":7.5},{"t":1996.5,"v":7},{"t":1996.7,"v":5},{"t":1996.9,"v":4},{"t":1997.1,"v":2.5},{"t":1997.3,"v":1.5},{"t":1997.5,"v":0.5},{"t":1997.7,"v":-0.5},{"t":1997.9,"v":-1},{"t":1998.05,"v":-0.5},{"t":1998.2,"v":1},{"t":1998.35,"v":2},{"t":1998.5,"v":2.5},{"t":1998.7,"v":2},{"t":1998.9,"v":3},{"t":1999.1,"v":3.5},{"t":1999.3,"v":4.5},{"t":1999.5,"v":5},{"t":1999.7,"v":6},{"t":1999.9,"v":6.5},{"t":2000.1,"v":7.5},{"t":2000.3,"v":8},{"t":2000.5,"v":8.5},{"t":2000.7,"v":9},{"t":2000.9,"v":10},{"t":2001.1,"v":10.5},{"t":2001.3,"v":11},{"t":2001.5,"v":10.5},{"t":2001.7,"v":12},{"t":2001.9,"v":13},{"t":2002.1,"v":14},{"t":2002.3,"v":14.5},{"t":2002.5,"v":12},{"t":2002.7,"v":11},{"t":2002.9,"v":9},{"t":2003.1,"v":8},{"t":2003.3,"v":7.5},{"t":2003.42,"v":0}
     ]},
     "mark": {"type": "area", "color": "#55ada0"},
     "encoding": {
      "x": {"field": "t", "type": "quantitative", "scale": {"domain": [1990, 2008.2], "range": [55, 472], "nice": false, "zero": false},
            "axis": {"orient": "bottom", "offset": -86, "values": [1990,1991,1992,1993,1994,1995,1996,1997,1998,1999,2000,2001,2002,2003,2004,2005,2006,2007,2008], "labelExpr": "datum.value === 2000 ? '2000' : format(datum.value % 100, '02d')", "labelAngle": -60, "labelAlign": "right", "labelBaseline": "middle", "labelOffset": 6, "labelPadding": 3, "labelFontSize": 11, "labelColor": "#7b7b7b", "labelOverlap": false, "labelFlush": false, "labelBound": false, "domain": false, "ticks": false, "grid": false, "title": null, "zindex": 1}},
      "y": {"field": "v", "type": "quantitative", "scale": {"domain": [-10, 50], "range": [212, 15], "nice": false, "zero": false},
            "axis": {"orient": "left", "values": [-10,0,10,20,30,40,50], "grid": true, "gridColor": "#dedede", "labels": false, "ticks": false, "domain": false, "title": null, "zindex": 0}}
     }},
    {"data": {"values": [{}]}, "mark": {"type": "rect", "color": "#ced2e3", "clip": true}, "encoding": {"x": {"datum": 1975, "axis": null}, "x2": {"datum": 1990}}},
    {"data": {"values": [{}]}, "mark": {"type": "rect", "color": "#ced2e3", "clip": true}, "encoding": {"x": {"datum": 2008.2, "axis": null}, "x2": {"datum": 2025}}},
    {"data": {"values": [{}]}, "mark": {"type": "rect", "color": "#ced2e3", "clip": true}, "encoding": {"y": {"datum": 50, "axis": null}, "y2": {"datum": 400}}},
    {"data": {"values": [{}]}, "mark": {"type": "rect", "color": "#ced2e3", "clip": true}, "encoding": {"y": {"datum": -10, "axis": null}, "y2": {"datum": -400}}},
    {"data": {"values": [{}]}, "mark": {"type": "point", "shape": "M-1,-0.4615L1,-0.4615L0,0.4615Z", "filled": true, "size": 16900, "color": "#c6b8d1", "opacity": 1, "strokeWidth": 0, "clip": true}, "encoding": {"x": {"datum": 1998.95, "axis": null}, "y": {"datum": -26.76, "axis": null}}},
    {"data": {"values": [{}]}, "mark": {"type": "rule", "color": "#9a9a9a", "strokeWidth": 1.2}, "encoding": {"x": {"datum": 1990, "axis": null}, "x2": {"datum": 2008.2}, "y": {"datum": 0, "axis": null}}},
    {"data": {"values": [{}]}, "mark": {"type": "rect", "filled": false, "color": "#c3ced5", "strokeWidth": 1},
     "encoding": {"x": {"datum": 1990, "axis": null}, "x2": {"datum": 2008.2},
      "y": {"datum": -10, "axis": {"orient": "left", "offset": -55, "values": [-10,0,10,20,30,40,50], "grid": false, "ticks": false, "domain": false, "labelPadding": 7, "labelFontSize": 12, "labelColor": "#6e6e6e", "labelOverlap": false, "labelFlush": false, "labelBound": false, "title": null, "zindex": 1}},
      "y2": {"datum": 50}}},
    {"data": {"values": [{}]}, "mark": {"type": "text", "fontSize": 9, "color": "#808080", "dx": -22, "dy": -19}, "encoding": {"x": {"datum": 1990, "axis": null}, "y": {"datum": 50, "axis": null}, "text": {"value": "(%)"}}},
    {"data": {"values": [{}]}, "mark": {"type": "text", "fontSize": 8, "color": "#808080", "dx": 17, "dy": 8}, "encoding": {"x": {"datum": 2008.2, "axis": null}, "y": {"datum": -10, "axis": null}, "text": {"value": "(年)"}}},
    {"data": {"values": [{"kind": "最大リターン", "ret": "18.8", "from": "1993年7月末〜", "to": "1998年7月末"}]},
     "layer": [
      {"mark": {"type": "rule", "color": "#9fc2d6", "strokeWidth": 1}, "encoding": {"x": {"datum": 1994.23, "axis": null}, "y": {"datum": 22.6, "axis": null}, "x2": {"datum": 1993.4}, "y2": {"datum": 17.5}}},
      {"mark": {"type": "rect", "fill": "white", "fillOpacity": 0.85, "stroke": "#a7c7d8", "strokeWidth": 1}, "encoding": {"x": {"datum": 1993.93, "axis": null}, "x2": {"datum": 1998.64}, "y": {"datum": 48.5, "axis": null}, "y2": {"datum": 22.6}}},
      {"mark": {"type": "text", "align": "left", "baseline": "middle", "fontSize": 12.5, "color": "#3f8fc3"}, "encoding": {"x": {"datum": 1994.15, "axis": null}, "y": {"datum": 43.9, "axis": null}, "text": {"field": "kind"}}},
      {"mark": {"type": "text", "align": "left", "baseline": "middle", "fontSize": 19, "fontWeight": "bold", "color": "#2a8cc5"}, "encoding": {"x": {"datum": 1994.15, "axis": null}, "y": {"datum": 37.8, "axis": null}, "text": {"field": "ret"}}},
      {"mark": {"type": "text", "align": "left", "baseline": "middle", "fontSize": 10, "color": "#2a8cc5", "dx": 38, "dy": 3}, "encoding": {"x": {"datum": 1994.15, "axis": null}, "y": {"datum": 37.8, "axis": null}, "text": {"value": "%"}}},
      {"mark": {"type": "text", "align": "left", "baseline": "middle", "fontSize": 12, "color": "#7ab5d8"}, "encoding": {"x": {"datum": 1994.15, "axis": null}, "y": {"datum": 31.7, "axis": null}, "text": {"field": "from"}}},
      {"mark": {"type": "text", "align": "left", "baseline": "middle", "fontSize": 12, "color": "#7ab5d8"}, "encoding": {"x": {"datum": 1994.15, "axis": null}, "y": {"datum": 26.6, "axis": null}, "text": {"field": "to"}}}
     ]},
    {"data": {"values": [{"kind": "最小リターン", "ret": "▲2.7", "from": "1990年3月末〜", "to": "1995年3月末"}]},
     "layer": [
      {"mark": {"type": "rule", "color": "#9fc2d6", "strokeWidth": 1}, "encoding": {"x": {"datum": 1990.35, "axis": null}, "y": {"datum": -2.5, "axis": null}, "x2": {"datum": 1991.83}, "y2": {"datum": -3.5}}},
      {"mark": {"type": "rule", "color": "#9fc2d6", "strokeWidth": 1}, "encoding": {"x": {"datum": 1990.35, "axis": null}, "y": {"datum": -2.8, "axis": null}, "x2": {"datum": 1991.83}, "y2": {"datum": -7.5}}},
      {"mark": {"type": "rect", "fill": "white", "fillOpacity": 0.8, "stroke": "#a7c7d8", "strokeWidth": 1}, "encoding": {"x": {"datum": 1991.83, "axis": null}, "x2": {"datum": 1996.55}, "y": {"datum": 15.9, "axis": null}, "y2": {"datum": -9.4}}},
      {"mark": {"type": "text", "align": "left", "baseline": "middle", "fontSize": 12.5, "color": "#3f8fc3"}, "encoding": {"x": {"datum": 1992.05, "axis": null}, "y": {"datum": 11.4, "axis": null}, "text": {"field": "kind"}}},
      {"mark": {"type": "text", "align": "left", "baseline": "middle", "fontSize": 19, "fontWeight": "bold", "color": "#2a8cc5"}, "encoding": {"x": {"datum": 1992.05, "axis": null}, "y": {"datum": 5.3, "axis": null}, "text": {"field": "ret"}}},
      {"mark": {"type": "text", "align": "left", "baseline": "middle", "fontSize": 10, "color": "#2a8cc5", "dx": 46, "dy": 3}, "encoding": {"x": {"datum": 1992.05, "axis": null}, "y": {"datum": 5.3, "axis": null}, "text": {"value": "%"}}},
      {"mark": {"type": "text", "align": "left", "baseline": "middle", "fontSize": 12, "color": "#7ab5d8"}, "encoding": {"x": {"datum": 1992.05, "axis": null}, "y": {"datum": -0.26, "axis": null}, "text": {"field": "from"}}},
      {"mark": {"type": "text", "align": "left", "baseline": "middle", "fontSize": 12, "color": "#7ab5d8"}, "encoding": {"x": {"datum": 1992.05, "axis": null}, "y": {"datum": -5.8, "axis": null}, "text": {"field": "to"}}}
     ]},
    {"data": {"values": [{"avg": "平均8.2"}]},
     "layer": [
      {"mark": {"type": "text", "align": "right", "baseline": "alphabetic", "fontSize": 16, "fontWeight": "bold", "color": "#1b8bc4"}, "encoding": {"x": {"datum": 2007.4, "axis": null}, "y": {"datum": 42.1, "axis": null}, "text": {"field": "avg"}}},
      {"mark": {"type": "text", "align": "left", "baseline": "alphabetic", "fontSize": 9, "color": "#1b8bc4", "dx": 1}, "encoding": {"x": {"datum": 2007.4, "axis": null}, "y": {"datum": 42.1, "axis": null}, "text": {"value": "%"}}}
     ]}
   ]},
  {"width": 510, "height": 247, "view": {"fill": "white"},
   "resolve": {"axis": {"x": "independent", "y": "independent"}},
   "layer": [
    {"data": {"values": [
      {"t":1990.0,"v":6},{"t":1990.2,"v":6.5},{"t":1990.4,"v":7},{"t":1990.6,"v":8},{"t":1990.8,"v":8.5},{"t":1991.0,"v":8},{"t":1991.2,"v":8.5},{"t":1991.4,"v":8},{"t":1991.6,"v":8},{"t":1991.8,"v":7.5},{"t":1992.0,"v":8},{"t":1992.2,"v":7.5},{"t":1992.4,"v":8},{"t":1992.6,"v":8},{"t":1992.8,"v":7},{"t":1993.0,"v":7.5},{"t":1993.2,"v":7},{"t":1993.4,"v":8},{"t":1993.6,"v":8},{"t":1993.8,"v":7.5},{"t":1994.0,"v":8},{"t":1994.2,"v":8.5},{"t":1994.4,"v":9},{"t":1994.6,"v":9.5},{"t":1994.8,"v":10},{"t":1995.0,"v":10},{"t":1995.15,"v":10.5},{"t":1995.3,"v":11.2},{"t":1995.45,"v":10.5},{"t":1995.6,"v":10},{"t":1995.8,"v":9.5},{"t":1996.0,"v":9},{"t":1996.2,"v":9},{"t":1996.4,"v":8.5},{"t":1996.6,"v":8.5},{"t":1996.8,"v":8},{"t":1997.0,"v":8},{"t":1997.2,"v":7.5},{"t":1997.4,"v":7},{"t":1997.6,"v":6},{"t":1997.8,"v":5},{"t":1998.0,"v":4.5},{"t":1998.2,"v":3.5},{"t":1998.4,"v":2.5},{"t":1998.6,"v":1.5},{"t":1998.75,"v":0.6}
     ]},
     "mark": {"type": "area", "color": "#0b90c9"},
     "encoding": {
      "x": {"field": "t", "type": "quantitative", "scale": {"domain": [1990, 2008.2], "range": [55, 472], "nice": false, "zero": false},
            "axis": {"orient": "bottom", "offset": -48, "values": [1990,1991,1992,1993,1994,1995,1996,1997,1998,1999,2000,2001,2002,2003,2004,2005,2006,2007,2008], "labelExpr": "datum.value === 2000 ? '2000' : format(datum.value % 100, '02d')", "labelAngle": -60, "labelAlign": "right", "labelBaseline": "middle", "labelOffset": 6, "labelPadding": 3, "labelFontSize": 11, "labelColor": "#7b7b7b", "labelOverlap": false, "labelFlush": false, "labelBound": false, "domain": false, "ticks": false, "grid": false, "title": null, "zindex": 1}},
      "y": {"field": "v", "type": "quantitative", "scale": {"domain": [-10, 50], "range": [199, 1], "nice": false, "zero": false},
            "axis": {"orient": "left", "values": [-10,0,10,20,30,40,50], "grid": true, "gridColor": "#dedede", "labels": false, "ticks": false, "domain": false, "title": null, "zindex": 0}}
     }},
    {"data": {"values": [{}]}, "mark": {"type": "rect", "color": "#ced2e3", "clip": true}, "encoding": {"x": {"datum": 1975, "axis": null}, "x2": {"datum": 1990}}},
    {"data": {"values": [{}]}, "mark": {"type": "rect", "color": "#ced2e3", "clip": true}, "encoding": {"x": {"datum": 2008.2, "axis": null}, "x2": {"datum": 2025}}},
    {"data": {"values": [{}]}, "mark": {"type": "rect", "color": "#ced2e3", "clip": true}, "encoding": {"y": {"datum": 50, "axis": null}, "y2": {"datum": 400}}},
    {"data": {"values": [{}]}, "mark": {"type": "rect", "color": "#ced2e3", "clip": true}, "encoding": {"y": {"datum": -10, "axis": null}, "y2": {"datum": -400}}},
    {"data": {"values": [{}]}, "mark": {"type": "rule", "color": "#9a9a9a", "strokeWidth": 1.2}, "encoding": {"x": {"datum": 1990, "axis": null}, "x2": {"datum": 2008.2}, "y": {"datum": 0, "axis": null}}},
    {"data": {"values": [{}]}, "mark": {"type": "rect", "filled": false, "color": "#c3ced5", "strokeWidth": 1},
     "encoding": {"x": {"datum": 1990, "axis": null}, "x2": {"datum": 2008.2},
      "y": {"datum": -10, "axis": {"orient": "left", "offset": -55, "values": [-10,0,10,20,30,40,50], "grid": false, "ticks": false, "domain": false, "labelPadding": 7, "labelFontSize": 12, "labelColor": "#6e6e6e", "labelOverlap": false, "labelFlush": false, "labelBound": false, "title": null, "zindex": 1}},
      "y2": {"datum": 50}}},
    {"data": {"values": [{}]}, "mark": {"type": "text", "fontSize": 9, "color": "#808080", "dx": -22, "dy": -17}, "encoding": {"x": {"datum": 1990, "axis": null}, "y": {"datum": 50, "axis": null}, "text": {"value": "(%)"}}},
    {"data": {"values": [{}]}, "mark": {"type": "text", "fontSize": 8, "color": "#808080", "dx": 17, "dy": 8}, "encoding": {"x": {"datum": 2008.2, "axis": null}, "y": {"datum": -10, "axis": null}, "text": {"value": "(年)"}}},
    {"data": {"values": [{"kind": "最大リターン", "ret": "11.2", "from": "1995年6月末〜", "to": "2005年6月末"}]},
     "layer": [
      {"mark": {"type": "rule", "color": "#9fc2d6", "strokeWidth": 1}, "encoding": {"x": {"datum": 1994.93, "axis": null}, "y": {"datum": 17.9, "axis": null}, "x2": {"datum": 1995.32}, "y2": {"datum": 11.4}}},
      {"mark": {"type": "rect", "fill": "white", "fillOpacity": 0.85, "stroke": "#a7c7d8", "strokeWidth": 1}, "encoding": {"x": {"datum": 1991.7, "axis": null}, "x2": {"datum": 1996.46}, "y": {"datum": 43.9, "axis": null}, "y2": {"datum": 17.9}}},
      {"mark": {"type": "text", "align": "left", "baseline": "middle", "fontSize": 12.5, "color": "#3f8fc3"}, "encoding": {"x": {"datum": 1991.96, "axis": null}, "y": {"datum": 39.1, "axis": null}, "text": {"field": "kind"}}},
      {"mark": {"type": "text", "align": "left", "baseline": "middle", "fontSize": 19, "fontWeight": "bold", "color": "#2a8cc5"}, "encoding": {"x": {"datum": 1991.96, "axis": null}, "y": {"datum": 33.0, "axis": null}, "text": {"field": "ret"}}},
      {"mark": {"type": "text", "align": "left", "baseline": "middle", "fontSize": 10, "color": "#2a8cc5", "dx": 38, "dy": 3}, "encoding": {"x": {"datum": 1991.96, "axis": null}, "y": {"datum": 33.0, "axis": null}, "text": {"value": "%"}}},
      {"mark": {"type": "text", "align": "left", "baseline": "middle", "fontSize": 12, "color": "#7ab5d8"}, "encoding": {"x": {"datum": 1991.96, "axis": null}, "y": {"datum": 26.5, "axis": null}, "text": {"field": "from"}}},
      {"mark": {"type": "text", "align": "left", "baseline": "middle", "fontSize": 12, "color": "#7ab5d8"}, "encoding": {"x": {"datum": 1991.96, "axis": null}, "y": {"datum": 21.4, "axis": null}, "text": {"field": "to"}}}
     ]},
    {"data": {"values": [{"kind": "最小リターン", "ret": "0.6", "from": "1998年11月末〜", "to": "2008年11月末"}]},
     "layer": [
      {"mark": {"type": "rule", "color": "#9fc2d6", "strokeWidth": 1}, "encoding": {"x": {"datum": 1999.6, "axis": null}, "y": {"datum": 12.7, "axis": null}, "x2": {"datum": 1998.74}, "y2": {"datum": 0.8}}},
      {"mark": {"type": "rect", "fill": "white", "fillOpacity": 0.85, "stroke": "#a7c7d8", "strokeWidth": 1}, "encoding": {"x": {"datum": 1998.38, "axis": null}, "x2": {"datum": 2003.31}, "y": {"datum": 39.1, "axis": null}, "y2": {"datum": 12.7}}},
      {"mark": {"type": "text", "align": "left", "baseline": "middle", "fontSize": 12.5, "color": "#3f8fc3"}, "encoding": {"x": {"datum": 1998.6, "axis": null}, "y": {"datum": 34.5, "axis": null}, "text": {"field": "kind"}}},
      {"mark": {"type": "text", "align": "left", "baseline": "middle", "fontSize": 19, "fontWeight": "bold", "color": "#2a8cc5"}, "encoding": {"x": {"datum": 1998.6, "axis": null}, "y": {"datum": 28.5, "axis": null}, "text": {"field": "ret"}}},
      {"mark": {"type": "text", "align": "left", "baseline": "middle", "fontSize": 10, "color": "#2a8cc5", "dx": 27, "dy": 3}, "encoding": {"x": {"datum": 1998.6, "axis": null}, "y": {"datum": 28.5, "axis": null}, "text": {"value": "%"}}},
      {"mark": {"type": "text", "align": "left", "baseline": "middle", "fontSize": 12, "color": "#7ab5d8"}, "encoding": {"x": {"datum": 1998.6, "axis": null}, "y": {"datum": 22.4, "axis": null}, "text": {"field": "from"}}},
      {"mark": {"type": "text", "align": "left", "baseline": "middle", "fontSize": 12, "color": "#7ab5d8"}, "encoding": {"x": {"datum": 1998.6, "axis": null}, "y": {"datum": 16.9, "axis": null}, "text": {"field": "to"}}}
     ]},
    {"data": {"values": [{"avg": "平均7.8"}]},
     "layer": [
      {"mark": {"type": "text", "align": "right", "baseline": "alphabetic", "fontSize": 16, "fontWeight": "bold", "color": "#1b8bc4"}, "encoding": {"x": {"datum": 2007.4, "axis": null}, "y": {"datum": 43.3, "axis": null}, "text": {"field": "avg"}}},
      {"mark": {"type": "text", "align": "left", "baseline": "alphabetic", "fontSize": 9, "color": "#1b8bc4", "dx": 1}, "encoding": {"x": {"datum": 2007.4, "axis": null}, "y": {"datum": 43.3, "axis": null}, "text": {"value": "%"}}}
     ]}
   ]}
 ]
}
]
}
